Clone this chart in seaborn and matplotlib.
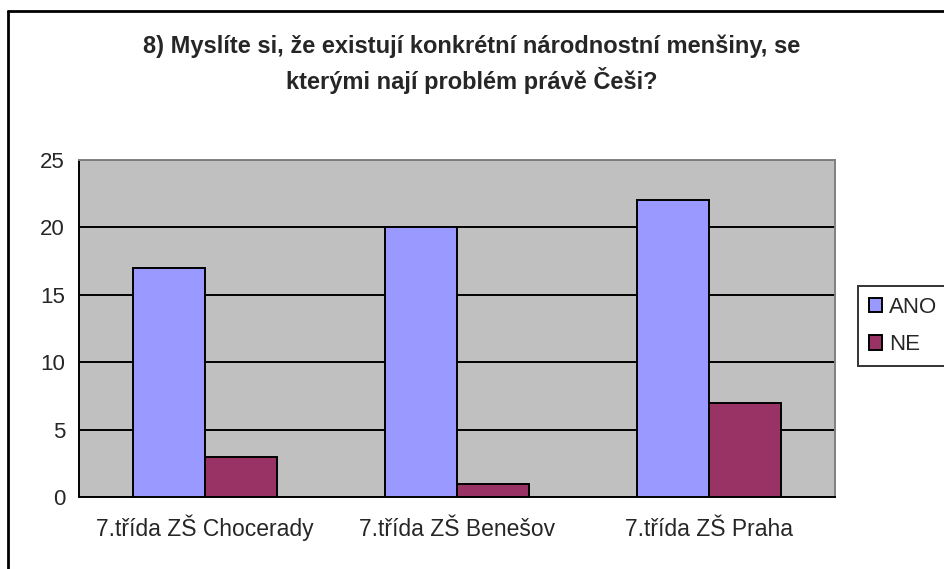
import matplotlib
matplotlib.use('Agg')
import matplotlib.pyplot as plt
import seaborn as sns
import pandas as pd
from matplotlib.lines import Line2D

# data
skoly = ['7.třída ZŠ Chocerady', '7.třída ZŠ Benešov', '7.třída ZŠ Praha']
ano = [17, 20, 22]
ne = [3, 1, 7]

df = pd.DataFrame({
    'skola': skoly * 2,
    'odpoved': ['ANO'] * 3 + ['NE'] * 3,
    'pocet': ano + ne,
})

sns.set_style('white')
plt.rcParams['font.family'] = ['Liberation Sans', 'DejaVu Sans']

fig = plt.figure(figsize=(9.44, 5.69), dpi=100)
ax = fig.add_axes([79 / 944, 1 - 497 / 569, (835 - 79) / 944, (497 - 160) / 569])

sns.barplot(data=df, x='skola', y='pocet', hue='odpoved',
            palette={'ANO': '#9999FF', 'NE': '#993366'},
            width=0.575, gap=0, edgecolor='black', linewidth=1.4,
            saturation=1, ax=ax, zorder=3)

ax.set_facecolor('#C0C0C0')
ax.set_ylim(0, 25)
ax.set_xlim(-0.5, 2.5)
ax.set_yticks(range(0, 26, 5))
ax.yaxis.grid(True, color='black', linewidth=1.4, zorder=1)
ax.set_axisbelow(True)
ax.set_xlabel('')
ax.set_ylabel('')

# category ticks sit between the groups
ax.set_xticks([-0.5, 0.5, 1.5, 2.5])
ax.set_xticklabels([])
ax.set_xticks([0, 1, 2], minor=True)
ax.set_xticklabels(skoly, minor=True, fontsize=16.5)
for lab in ax.get_xticklabels(minor=True):
    lab.set_verticalalignment('baseline')
ax.tick_params(axis='x', which='minor', length=0, pad=28)
ax.tick_params(axis='x', which='major', length=6, width=1.4, color='black', direction='out')
ax.tick_params(axis='y', length=6, width=1.4, color='black', direction='out', labelsize=16, pad=4)

for side in ['top', 'right']:
    ax.spines[side].set_color('#808080')
    ax.spines[side].set_linewidth(1.4)
for side in ['left', 'bottom']:
    ax.spines[side].set_color('black')
    ax.spines[side].set_linewidth(1.4)

leg = ax.legend(loc='center left', bbox_to_anchor=(858 / 944, 1 - 326 / 569),
                bbox_transform=fig.transFigure, frameon=True, fancybox=False,
                fontsize=16, handlelength=0.6, handleheight=0.6, handletextpad=0.3,
                labelspacing=0.75, borderpad=0.5, borderaxespad=0)
leg.get_frame().set_edgecolor('black')
leg.get_frame().set_linewidth(1.4)
for h in leg.legend_handles:
    h.set_edgecolor('black')

fig.text(0.5, 1 - 46 / 569, '8) Myslíte si, že existují konkrétní národnostní menšiny, se',
         ha='center', va='center', fontsize=17, fontweight='bold')
fig.text(0.5, 1 - 81 / 569, 'kterými nají problém právě Češi?',
         ha='center', va='center', fontsize=17, fontweight='bold')

# chart border: only top and left edges are inside the picture
fig.add_artist(Line2D([8 / 944, 1], [1 - 11 / 569, 1 - 11 / 569],
                      transform=fig.transFigure, color='black', linewidth=2))
fig.add_artist(Line2D([8 / 944, 8 / 944], [0, 1 - 11 / 569],
                      transform=fig.transFigure, color='black', linewidth=2))

fig.savefig('out.png', dpi=100)
